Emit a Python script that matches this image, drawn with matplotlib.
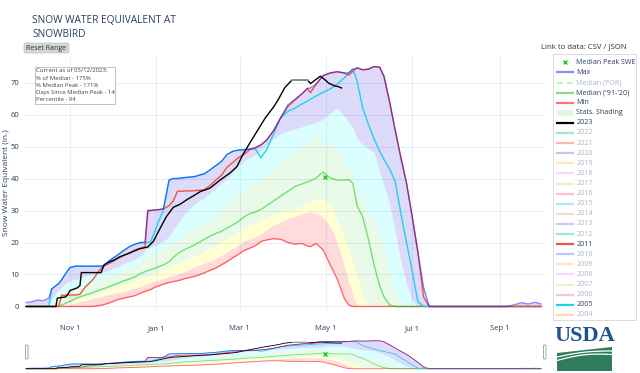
import matplotlib
matplotlib.use("Agg")
import matplotlib.pyplot as plt
from matplotlib.patches import FancyBboxPatch, Rectangle, Polygon
from matplotlib.lines import Line2D
import numpy as np

plt.rcParams['font.family'] = ['Open Sans', 'DejaVu Sans']

# ------------------------------------------------------------------ data
# day of water year (0 = Oct 1)
days = [0, 4, 8, 12, 16, 18, 21, 23, 25, 29, 31, 35,
        38, 42, 47, 52, 55, 58, 61, 65, 69, 73, 77, 81,
        84, 86, 88, 91, 94, 97, 101, 104, 107, 112, 119, 126,
        130, 134, 138, 142, 146, 150, 154, 158, 162, 166, 170, 175,
        180, 185, 190, 195, 199, 201, 205, 210, 215, 220, 225, 228,
        231, 234, 238, 242, 246, 250, 253, 257, 261, 265, 269, 273,
        277, 281, 285, 290, 300, 320, 340, 345, 350, 355, 360, 364]

max_swe = [1.2, 1.5, 2.0, 1.8, 2.6, 5.5, 6.5, 7.2, 8.3, 11.0, 12.2, 12.6,
           12.6, 12.6, 12.6, 12.6, 12.7, 14.0, 15.0, 16.2, 17.5, 18.7, 19.5, 20.0,
           20.0, 30.0, 30.0, 30.2, 30.3, 30.5, 39.5, 40.0, 40.0, 40.3, 40.6, 41.5,
           42.7, 44.0, 45.3, 47.5, 48.5, 48.9, 49.0, 49.2, 49.6, 50.5, 52.0, 55.0,
           59.0, 63.0, 64.8, 66.5, 68.2, 68.3, 69.5, 72.2, 73.0, 73.4, 73.0, 73.0,
           74.2, 74.6, 74.0, 74.2, 75.0, 74.8, 72.0, 64.0, 55.0, 46.5, 38.5, 28.0,
           17.0, 6.0, 0, 0, 0, 0, 0, 0.5, 1.2, 0.8, 1.3, 0.8]

y2005 = [0, 0, 0, 0, 0, 5.5, 6.5, 7.2, 8.3, 11.0, 12.2, 12.6,
         12.6, 12.6, 12.6, 12.6, 12.7, 14.0, 15.0, 16.2, 17.5, 18.7, 19.5, 20.0,
         20.0, 20.0, 20.2, 23.5, 27.0, 30.0, 39.5, 40.0, 40.0, 40.3, 40.6, 41.5,
         42.7, 44.0, 45.3, 47.5, 48.5, 48.9, 49.0, 49.2, 49.3, 46.5, 49.0, 54.0,
         59.0, 61.0, 62.0, 63.3, 64.2, 64.8, 65.8, 67.0, 68.0, 69.5, 71.5, 73.0,
         74.2, 70.5, 62.0, 57.0, 52.5, 48.5, 46.0, 43.0, 39.0, 29.0, 20.0, 11.0,
         1.5, 0, 0, 0, 0, 0, 0, 0, 0, 0, 0, 0]

y2011 = [0, 0, 0, 0, 0, 0, 0, 0, 3.5, 3.5, 3.6, 3.6,
         3.8, 6.2, 8.3, 11.4, 12.7, 13.3, 14.0, 15.0, 16.0, 16.8, 17.7, 18.3,
         18.7, 30.0, 30.0, 30.2, 30.3, 30.5, 31.5, 33.0, 36.0, 36.1, 36.2, 36.5,
         37.8, 39.5, 41.0, 43.5, 45.0, 46.5, 47.5, 49.0, 49.6, 50.5, 52.0, 55.0,
         59.0, 62.5, 64.5, 66.5, 68.2, 66.8, 69.5, 72.2, 73.0, 73.4, 73.0, 72.3,
         73.5, 74.6, 74.0, 74.2, 75.0, 74.8, 72.0, 64.0, 55.0, 46.5, 38.5, 28.0,
         17.0, 3.0, 0, 0, 0, 0, 0, 0, 0, 0, 0, 0]

p90 = [0, 0, 0, 0, 0.5, 2.5, 4.0, 5.0, 6.0, 7.5, 8.0, 8.5,
       9.0, 9.5, 10.0, 10.5, 10.8, 11.2, 11.8, 12.5, 13.5, 14.0, 14.8, 16.0,
       17.5, 18.0, 18.5, 19.0, 19.8, 20.3, 22.0, 24.0, 26.0, 29.0, 32.0, 34.0,
       35.5, 37.0, 38.5, 40.0, 42.0, 44.0, 45.5, 46.5, 47.5, 49.0, 50.5, 52.5,
       54.0, 54.8, 55.5, 56.2, 56.8, 57.0, 57.5, 58.5, 60.5, 62.0, 59.5, 57.5,
       56.0, 52.5, 50.5, 49.5, 48.0, 42.0, 38.0, 32.0, 23.0, 14.0, 7.0, 2.0,
       0, 0, 0, 0, 0, 0, 0, 0, 0, 0, 0, 0]

p70 = [0, 0, 0, 0, 0, 0.8, 2.0, 2.8, 3.5, 4.8, 5.2, 5.8,
       6.2, 6.5, 7.3, 8.3, 8.8, 9.3, 9.8, 10.5, 11.5, 12.3, 13.0, 14.0,
       15.0, 15.8, 16.3, 17.0, 17.8, 18.5, 19.5, 20.3, 21.0, 22.8, 24.0, 25.8,
       27.0, 28.5, 30.0, 32.0, 33.8, 35.0, 36.5, 37.5, 38.5, 40.0, 41.5, 43.5,
       45.0, 46.5, 48.0, 50.0, 51.5, 52.0, 53.0, 52.0, 50.5, 48.9, 45.0, 43.0,
       41.0, 37.5, 33.0, 29.0, 26.0, 22.0, 18.0, 12.0, 6.0, 1.0, 0, 0,
       0, 0, 0, 0, 0, 0, 0, 0, 0, 0, 0, 0]

median_swe = [0, 0, 0, 0, 0, 0, 0, 0.2, 0.4, 1.2, 1.6, 2.5,
              3.0, 3.6, 4.3, 5.2, 5.6, 6.1, 6.6, 7.3, 8.0, 8.6, 9.3, 10.3,
              10.9, 11.2, 11.5, 12.0, 12.5, 13.0, 14.0, 15.3, 16.5, 17.8, 19.2, 21.0,
              22.0, 22.8, 23.5, 24.5, 25.5, 26.5, 28.0, 29.0, 29.5, 30.3, 31.5, 33.0,
              34.5, 36.0, 37.5, 38.3, 39.0, 39.3, 40.2, 42.0, 40.2, 39.5, 39.5, 39.7,
              38.5, 31.5, 28.0, 21.0, 13.0, 6.5, 3.0, 0.5, 0, 0, 0, 0,
              0, 0, 0, 0, 0, 0, 0, 0, 0, 0, 0, 0]

p30 = [0, 0, 0, 0, 0, 0, 0, 0, 0.3, 0.8, 1.2, 2.0,
       2.5, 3.0, 3.6, 4.3, 4.8, 5.3, 5.7, 6.3, 7.0, 7.5, 8.0, 8.8,
       9.3, 9.6, 10.0, 10.5, 10.9, 11.4, 12.0, 12.7, 13.3, 14.5, 15.8, 17.2,
       18.2, 19.2, 20.2, 21.2, 22.2, 23.5, 24.5, 25.5, 26.2, 27.2, 28.0, 29.0,
       29.5, 30.0, 30.5, 31.5, 32.3, 32.6, 33.5, 33.5, 32.0, 27.0, 21.5, 18.0,
       14.0, 9.5, 3.0, 0.5, 0, 0, 0, 0, 0, 0, 0, 0,
       0, 0, 0, 0, 0, 0, 0, 0, 0, 0, 0, 0]

p10 = [0, 0, 0, 0, 0, 0, 0, 0, 0.1, 0.4, 0.6, 1.2,
       1.6, 2.0, 2.5, 3.0, 3.3, 3.7, 4.0, 4.4, 4.8, 5.3, 5.8, 6.3,
       6.8, 7.1, 7.4, 7.8, 8.3, 8.8, 9.4, 9.8, 10.2, 11.0, 12.4, 13.5,
       14.3, 15.0, 16.0, 17.0, 18.2, 19.2, 20.5, 21.2, 21.8, 22.7, 24.0, 25.5,
       26.5, 27.5, 28.2, 29.0, 29.5, 29.6, 29.0, 28.0, 25.0, 20.0, 12.5, 8.0,
       3.5, 0.5, 0, 0, 0, 0, 0, 0, 0, 0, 0, 0,
       0, 0, 0, 0, 0, 0, 0, 0, 0, 0, 0, 0]

min_swe = [0, 0, 0, 0, 0, 0, 0, 0, 0, 0, 0, 0,
           0, 0, 0, 0.3, 0.6, 1.0, 1.5, 2.2, 2.6, 3.0, 3.4, 4.2,
           4.7, 5.0, 5.3, 6.0, 6.5, 7.0, 7.5, 7.8, 8.0, 8.7, 9.4, 10.5,
           11.3, 12.0, 13.0, 14.0, 15.2, 16.3, 17.5, 18.2, 19.0, 20.3, 20.8, 21.2,
           21.0, 20.0, 19.5, 19.7, 18.9, 18.7, 19.7, 17.7, 13.0, 8.5, 2.5, 0.5,
           0, 0, 0, 0, 0, 0, 0, 0, 0, 0, 0, 0,
           0, 0, 0, 0, 0, 0, 0, 0, 0, 0, 0, 0]

y2023_days = [0, 21, 22, 28, 30, 31, 36, 38, 39, 53, 55, 58, 62, 66, 72, 80, 86,
              90, 93, 96, 99, 104, 109, 114, 119, 123, 130, 137, 144, 149, 153,
              158, 163, 169, 175, 178, 183, 188, 199, 201, 205, 208, 211, 214,
              218, 221, 223]
y2023 = [0, 0, 2.6, 3.0, 4.2, 5.0, 5.8, 6.5, 10.6, 10.6, 13.0, 13.8, 14.5, 15.5,
         16.5, 18.0, 18.6, 20.4, 23.0, 25.5, 28.0, 31.0, 32.0, 33.5, 34.8, 35.9,
         37.0, 39.5, 41.7, 43.7, 47.3, 51.0, 54.6, 58.9, 62.4, 64.5, 68.5, 70.8,
         70.8, 69.7, 71.0, 72.0, 71.0, 69.8, 69.0, 68.7, 68.3]
gap_start_day = 188   # flat (estimated) stretch of 2023 drawn in grey
gap_end_day = 199

peak_day = 211
peak_swe = 40.4

tick_days = [31, 92, 151, 212, 273, 335]
tick_labels = ['Nov 1', 'Jan 1', 'Mar 1', 'May 1', 'Jul 1', 'Sep 1']
y_ticks = [0, 10, 20, 30, 40, 50, 60, 70]

info_lines = ["Current as of 05/12/2023:", "% of Median - 175%",
              "% Median Peak - 171%", "Days Since Median Peak - 14",
              "Percentile - 94"]

legend_years = [2022, 2021, 2020, 2019, 2018, 2017, 2016, 2015, 2014, 2013,
                2012, 2011, 2010, 2009, 2008, 2007, 2006, 2005, 2004]
active_years = [2011, 2005]

# ------------------------------------------------------------------ styles
W, H = 640, 373
def fx(x):
    return np.asarray(x) / W
def fy(y):
    return 1 - np.asarray(y) / H

palette = ['#636EFA', '#EF553B', '#00CC96', '#AB63FA', '#FFA15A',
           '#19D3F3', '#FF6692', '#B6E880', '#FF97FF', '#FECB52']
C_MAX = (0, 0, 1, 0.45)
C_MED = (0, 0.78, 0, 0.5)
C_MIN = (1, 0, 0, 0.55)
C_2011 = '#EF553B'
C_2005 = '#19D3F3'
TXT = '#2a3f5f'
FADED = '#b0b6c4'

fig = plt.figure(figsize=(6.4, 3.73), dpi=100)


def draw(ax, lw, ms):
    d = np.array(days)
    ax.fill_between(d, min_swe, p10, color=(1, 0, 0, 0.14), lw=0, zorder=1)
    ax.fill_between(d, p10, p30, color=(1, 1, 0, 0.17), lw=0, zorder=1)
    ax.fill_between(d, p30, p70, color=(0, 0.78, 0, 0.085), lw=0, zorder=1)
    ax.fill_between(d, p70, p90, color=(0, 1, 1, 0.14), lw=0, zorder=1)
    ax.fill_between(d, p90, max_swe, color=(0.235, 0.157, 0.9, 0.17), lw=0, zorder=1)
    ax.plot(d, min_swe, color=C_MIN, lw=lw, zorder=2)
    ax.plot(d, median_swe, color=C_MED, lw=lw, zorder=2)
    ax.plot(d, y2005, color=C_2005, lw=lw, zorder=3)
    ax.plot(d, y2011, color=C_2011, lw=lw, zorder=3)
    ax.plot(y2023_days, y2023, color='black', lw=lw, zorder=4)
    i0 = y2023_days.index(gap_start_day)
    i1 = y2023_days.index(gap_end_day)
    ax.plot(y2023_days[i0:i1 + 1], y2023[i0:i1 + 1], color='#a8a8a8',
            lw=lw * 1.1, zorder=4.5)
    ax.plot(d, max_swe, color=C_MAX, lw=lw, zorder=5)
    ax.plot([peak_day], [peak_swe], marker='x', color='#22cc22', ms=ms,
            mew=1.0, ls='none', zorder=6)


# main axes
ax = fig.add_axes([fx(25), fy(310), 520 / W, (310 - 57) / H])
draw(ax, 1.0, 3.5)
ax.set_xlim(-0.85, 366.9)
ax.set_ylim(-1.1, 78.0)
ax.set_xticks(tick_days)
ax.set_xticklabels(tick_labels)
ax.set_yticks(y_ticks)
ax.grid(True, color='#e9eef6', lw=0.8)
ax.set_axisbelow(True)
for s in ax.spines.values():
    s.set_visible(False)
ax.tick_params(length=0, labelsize=5.5, labelcolor=TXT, pad=4)
ax.tick_params(axis='x', pad=11)
fig.text(fx(7), fy(183), 'Snow Water Equivalent (in.)', fontsize=6.0, color=TXT,
         rotation=90, ha='center', va='center')

# range slider
rs = fig.add_axes([fx(25), fy(370), 520 / W, 33 / H])
draw(rs, 0.6, 2.5)
rs.set_xlim(-0.85, 366.9)
rs.set_ylim(-3.5, 85)
rs.set_xticks([])
rs.set_yticks([])
for s in rs.spines.values():
    s.set_visible(False)
for hx in (25.5, 543.5):
    fig.add_artist(FancyBboxPatch((fx(hx), fy(359)), 2.5 / W, 14 / H,
                                  boxstyle='round,pad=0,rounding_size=0.002',
                                  transform=fig.transFigure, fc='white',
                                  ec='#9a9a9a', lw=0.6))

# title
fig.text(fx(32), fy(15), 'SNOW WATER EQUIVALENT AT', fontsize=7.3, color=TXT,
         va='top', ha='left')
fig.text(fx(32), fy(29), 'SNOWBIRD', fontsize=7.3, color=TXT, va='top', ha='left')

# reset range button
fig.add_artist(FancyBboxPatch((fx(24), fy(53)), 45 / W, 10 / H,
                              boxstyle='round,pad=0,rounding_size=0.003',
                              transform=fig.transFigure, fc='#d6d6d6',
                              ec='#c4c4c4', lw=0.5))
fig.text(fx(46.5), fy(48), 'Reset Range', fontsize=5.0, color='#2a3040',
         ha='center', va='center')

# link text
fig.text(fx(627), fy(47), 'Link to data: CSV / JSON', fontsize=5.6, color='#333',
         ha='right', va='center')

# info box
fig.add_artist(Rectangle((fx(35), fy(103.5)), 80 / W, 37 / H,
                         transform=fig.transFigure, fc='white', ec='#b8b8b8',
                         lw=0.6, zorder=10))
for i, line in enumerate(info_lines):
    fig.text(fx(36.5), fy(71 + i * 7.2), line, fontsize=4.3, color='#444',
             ha='left', va='center', zorder=11)

# legend
fig.add_artist(Rectangle((fx(553), fy(320)), 83 / W, 266 / H,
                         transform=fig.transFigure, fc='white', ec='#d4d4d4',
                         lw=0.6))
entries = [("Median Peak SWE", 'marker', '#22cc22', True),
           ("Max", 'line', C_MAX, True),
           ("Median (POR)", 'dash', (0, 0.78, 0, 0.5), False),
           ("Median ('91-'20)", 'line', C_MED, True),
           ("Min", 'line', C_MIN, True),
           ("Stats. Shading", 'patch', '#e2f7e2', True),
           ("2023", 'line', 'black', True)]
for yr in legend_years:
    entries.append((str(yr), 'line', palette[(yr - 2010) % 10], yr in active_years))

for i, (lab, kind, col, active) in enumerate(entries):
    yy = 62.3 + i * 10.1
    alpha = None if active else 0.4
    if kind == 'marker':
        fig.add_artist(Line2D([fx(565)], [fy(yy)], marker='x', color=col, ms=3.2,
                              mew=1.0, ls='none', transform=fig.transFigure))
    elif kind == 'patch':
        fig.add_artist(Rectangle((fx(556.5), fy(yy + 3)), 16.5 / W, 6 / H,
                                 transform=fig.transFigure, fc=col, ec='none'))
    else:
        if kind == 'dash':
            alpha = 0.25
        fig.add_artist(Line2D([fx(556.5), fx(573)], [fy(yy), fy(yy)], color=col,
                              lw=1.6, alpha=alpha,
                              ls=(0, (2.5, 2)) if kind == 'dash' else '-',
                              transform=fig.transFigure))
    fig.text(fx(576.5), fy(yy), lab, fontsize=5.1,
             color=TXT if active else FADED, ha='left', va='center')

# USDA logo
fig.text(fx(584.5), fy(336), 'USDA', fontsize=16, fontweight='bold',
         color='#1f4f8f', ha='center', va='center', family='Liberation Serif')
xs = np.linspace(557, 612, 40)
t = (xs - 557) / 55.0
top = 353 - 6 * t
green = np.vstack([np.column_stack([xs, top]), [[612, 371], [557, 371]]])
fig.add_artist(Polygon([(fx(a), fy(b)) for a, b in green], closed=True,
                       transform=fig.transFigure, fc='#2f7d5a', ec='none'))
for off, amp in ((4.0, 3.0), (7.5, 4.5)):
    cy = top + off - amp * np.sin(np.pi * t) * 0.6
    fig.add_artist(Line2D(fx(xs), fy(cy), color='white', lw=0.9,
                          transform=fig.transFigure))

fig.savefig('out.png', dpi=100)
